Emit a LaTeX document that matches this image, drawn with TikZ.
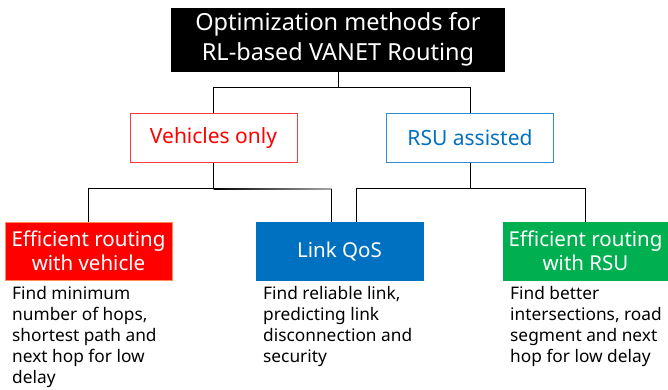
\documentclass[tikz,border=0pt]{standalone}
\usepackage{fontspec}
\setmainfont{Noto Sans}
\usetikzlibrary{positioning}

\definecolor{vred}{RGB}{255,0,0}
\definecolor{vredline}{RGB}{255,60,60}
\definecolor{rblue}{RGB}{0,112,192}
\definecolor{rblueline}{RGB}{50,140,210}
\definecolor{rgreen}{RGB}{0,176,80}
\definecolor{redborder}{RGB}{255,140,90}

\begin{document}
\begin{tikzpicture}[
    % GLOBAL CFG
    x=1pt, y=1pt,
    % Styles
    root/.style={% The top box
        rectangle,
        fill=black,
        text=white,
        minimum width=334pt,
        minimum height=64pt,
        align=center,
        font=\fontsize{23.5}{30}\selectfont,
        },
    branch/.style={% Outlined second level boxes
        rectangle,
        draw,
        fill=white,
        minimum width=167pt,
        minimum height=49pt,
        font=\fontsize{21}{24}\selectfont,
        },
    leaf/.style={% Filled third level boxes
        rectangle,
        draw,
        text=white,
        minimum width=167pt,
        minimum height=58pt,
        align=center,
        inner sep=1pt,
        font=\fontsize{20.5}{24}\selectfont,
        },
    desc/.style={% Text under the filled boxes
        anchor=north west,
        inner sep=0pt,
        align=left,
        font=\fontsize{17.3}{21}\selectfont,
        },
    link/.style={% Tree connectors
        line width=0.9pt,
        },
    ]

    \useasboundingbox (0,0) rectangle (668,-389);

    % Top of the tree
    \node [root] (top) at (338,-39.5) {Optimization methods for\\RL-based VANET Routing};

    % Second level
    \node [branch, draw=vredline, text=vred] (veh) at (213.5,-138) {Vehicles only};
    \node [branch, draw=rblueline, text=rblue] (rsu) at (470,-138) {RSU assisted};

    % Third level
    \node [leaf, fill=vred, draw=redborder] (effveh) at (88.5,-251) {Efficient routing\\with vehicle};
    \node [leaf, fill=rblue, draw=rblue] (linkqos) at (339.5,-251) {Link QoS};
    \node [leaf, fill=rgreen, draw=rgreen, minimum width=165pt] (effrsu) at (585.5,-251) {Efficient routing\\with RSU};

    % Descriptions
    \node [desc] (effvehtxt) at (12,-286) {Find minimum\\number of hops,\\shortest path and\\next hop for low\\delay};
    \node [desc] (linkqostxt) at (263,-286) {Find reliable link,\\predicting link\\disconnection and\\security};
    \node [desc] (effrsutxt) at (510,-286) {Find better\\intersections, road\\segment and next\\hop for low delay};

% Start connecting all.
    \draw [link] (top.south) -- ++(0,-16) coordinate (topbus) -| (veh.north);
    \draw [link] (topbus) -| (rsu.north);

    \draw [link] (veh.south) -- ++(0,-26) coordinate (vehbus) -| (effveh.north);
    % fading bar towards Link QoS
    \coordinate (vehbusend) at ([xshift=-8pt]linkqos.north |- vehbus);
    \shade [left color=black, right color=black!35]
        ([yshift=-0.45pt]vehbus) rectangle ([yshift=0.45pt]vehbusend);
    \draw [link] (vehbusend) -- ([xshift=-8pt]linkqos.north);

    \draw [link] (rsu.south) -- ++(0,-26) coordinate (rsubus) -| ([xshift=17pt]linkqos.north);
    \draw [link] (rsubus) -| (effrsu.north);

\end{tikzpicture}
\end{document}
